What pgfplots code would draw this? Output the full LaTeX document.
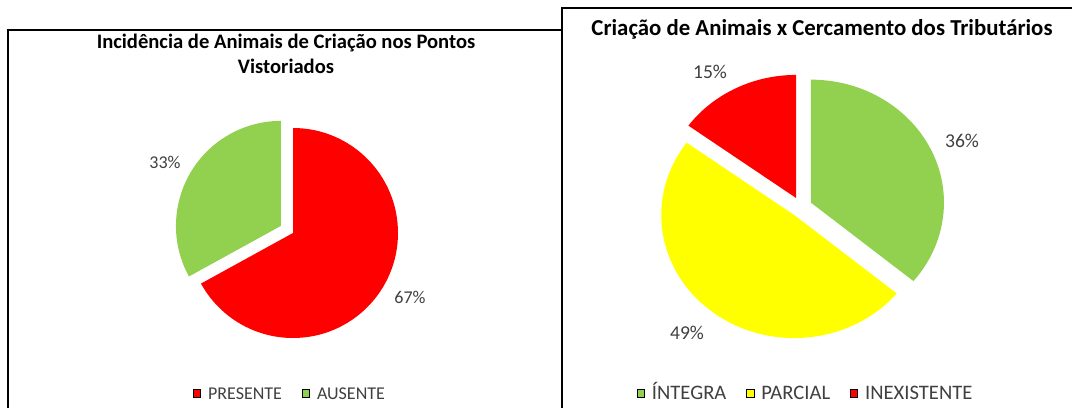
\documentclass[border=0pt]{standalone}
\usepackage{fontspec}
\setmainfont{Carlito}
\usepackage{pgfplots}
\usepackage{pgfplotstable}
\pgfplotsset{compat=1.18}
\usetikzlibrary{calc}
\definecolor{pRed}{HTML}{FF0000}
\definecolor{pGreen}{HTML}{92D050}
\definecolor{pYellow}{HTML}{FFFF00}
\definecolor{labgray}{HTML}{404040}

% value in %, explode and label position in picture pixels
\pgfplotstableread{
label value color explode lx ly
PRESENTE 67 pRed 0 410 111
AUSENTE 33 pGreen 14 165 246
}\leftdata
\pgfplotstableread{
label value color explode lx ly
INTEGRA 36 pGreen 11 962 267
PARCIAL 49 pYellow 11 687 75
INEXISTENTE 15 pRed 11 710 336
}\rightdata

% #1 table, #2 #3 centre (px), #4 #5 x and y radius (pt), #6 label font size (pt)
\newcommand\drawpie[6]{%
  \pgfplotsextra{%
    \pgfplotstablegetrowsof{#1}%
    \pgfmathtruncatemacro\nlast{\pgfplotsretval-1}%
    \gdef\cumval{0}%
    \foreach \i in {0,...,\nlast}{%
      \pgfplotstablegetelem{\i}{value}\of{#1}\let\pv\pgfplotsretval
      \pgfplotstablegetelem{\i}{color}\of{#1}\let\pc\pgfplotsretval
      \pgfplotstablegetelem{\i}{explode}\of{#1}\let\pe\pgfplotsretval
      \pgfplotstablegetelem{\i}{lx}\of{#1}\let\plx\pgfplotsretval
      \pgfplotstablegetelem{\i}{ly}\of{#1}\let\ply\pgfplotsretval
      \pgfmathsetmacro\aS{90-3.6*\cumval}%
      \pgfmathsetmacro\aE{90-3.6*(\cumval+\pv)}%
      \pgfmathsetmacro\aM{(\aS+\aE)/2}%
      \pgfmathsetmacro\ex{0.5*\pe}%
      \pgfmathsetmacro\ey{0.5*\pe*#5/#4}%
      \fill[fill=\pc] ($(axis cs:#2,#3)+(\aM:\ex pt and \ey pt)$) -- ++(\aS:#4pt and #5pt)
        arc[start angle=\aS, end angle=\aE, x radius=#4pt, y radius=#5pt] -- cycle;
      \node[font=\fontsize{#6}{12}\selectfont, text=labgray] at (axis cs:\plx,\ply) {\pv\%};
      \pgfmathsetmacro\cn{\cumval+\pv}\xdef\cumval{\cn}%
    }%
  }%
}

\pgfplotsset{piebox/.style={scale only axis, hide axis, width=536pt, height=204pt,
  xmin=0, xmax=1072, ymin=0, ymax=408, clip=false,
  legend columns=-1,
  legend image code/.code={\fill[##1] (0pt,-1.8pt) rectangle (3.6pt,1.8pt);},
  legend style={draw=none, fill=none, anchor=center, inner sep=0pt,
    text=labgray,
    nodes={inner sep=1.5pt, text height=1.55ex, text depth=0.25ex},
    /tikz/every odd column/.append style={column sep=2pt},
    /tikz/every even column/.append style={column sep=8.5pt}}}}

\begin{document}
\begin{tikzpicture}
\begin{axis}[piebox, name=ax1, legend style={at={(0.271,0.036)}, font=\fontsize{9}{11}\selectfont}]
\draw[line width=0.75pt] (axis cs:8,0) -- (axis cs:8,378) -- (axis cs:562,378);
\node[font=\fontsize{10.3}{12.8}\selectfont\bfseries, align=center] at (axis cs:286,354)
  {Incidência de Animais de Criação nos Pontos\\Vistoriados};
\drawpie{\leftdata}{293}{175}{52.5}{52.5}{9}
\addlegendimage{fill=pRed}\addlegendentry{PRESENTE}
\addlegendimage{fill=pGreen}\addlegendentry{AUSENTE}
\end{axis}
\begin{axis}[piebox, legend style={at={(0.752,0.036)}, font=\fontsize{10.3}{12}\selectfont}]
\fill[white] (axis cs:562,0) rectangle (axis cs:1072,400);
\draw[line width=0.75pt] (axis cs:562,0) -- (axis cs:562,400) -- (axis cs:1072,400);
\node[font=\fontsize{11.4}{13}\selectfont\bfseries] at (axis cs:822,379)
  {Criação de Animais x Cercamento dos Tributários};
\drawpie{\rightdata}{801}{201}{66.5}{61.5}{9.8}
\addlegendimage{fill=pGreen}\addlegendentry{ÍNTEGRA}
\addlegendimage{fill=pYellow}\addlegendentry{PARCIAL}
\addlegendimage{fill=pRed}\addlegendentry{INEXISTENTE}
\end{axis}
\pgfresetboundingbox
\path (ax1.south west) rectangle (ax1.north east);
\end{tikzpicture}
\end{document}
